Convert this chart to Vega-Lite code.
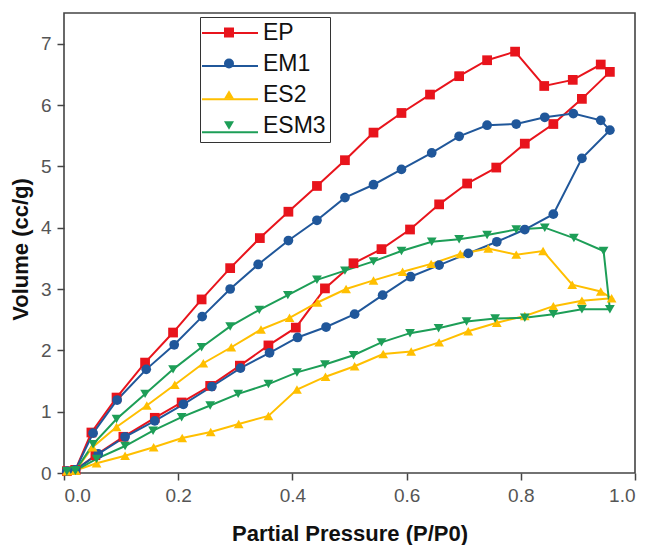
{
  "$schema": "https://vega.github.io/schema/vega-lite/v6.json",
  "autosize": "none",
  "padding": {"left": 64, "top": 13, "right": 13, "bottom": 72},
  "width": 571,
  "height": 460,
  "background": "white",
  "config": {
    "view": {"stroke": "#444", "strokeWidth": 1.6},
    "font": "Liberation Sans",
    "axis": {
      "grid": false,
      "domain": false,
      "tickColor": "#444",
      "tickWidth": 1.5,
      "tickSize": 7,
      "labelFont": "Liberation Sans",
      "labelFontSize": 19,
      "labelColor": "#555",
      "labelPadding": 6,
      "titleFont": "Liberation Sans",
      "titleFontSize": 22,
      "titleFontWeight": "bold",
      "titleColor": "#111"
    }
  },
  "data": {
    "values": [
      {"s":"EP","o":0,"x":0.005,"y":0.03},{"s":"EP","o":1,"x":0.02,"y":0.05},
      {"s":"EP","o":2,"x":0.055,"y":0.29},{"s":"EP","o":3,"x":0.104,"y":0.59},{"s":"EP","o":4,"x":0.159,"y":0.9},{"s":"EP","o":5,"x":0.206,"y":1.15},{"s":"EP","o":6,"x":0.256,"y":1.42},{"s":"EP","o":7,"x":0.308,"y":1.75},{"s":"EP","o":8,"x":0.358,"y":2.08},{"s":"EP","o":9,"x":0.406,"y":2.37},{"s":"EP","o":10,"x":0.457,"y":3.01},{"s":"EP","o":11,"x":0.507,"y":3.42},{"s":"EP","o":12,"x":0.556,"y":3.65},{"s":"EP","o":13,"x":0.606,"y":3.97},{"s":"EP","o":14,"x":0.657,"y":4.38},{"s":"EP","o":15,"x":0.706,"y":4.72},{"s":"EP","o":16,"x":0.757,"y":4.98},{"s":"EP","o":17,"x":0.807,"y":5.37},{"s":"EP","o":18,"x":0.857,"y":5.69},{"s":"EP","o":19,"x":0.907,"y":6.1},{"s":"EP","o":20,"x":0.956,"y":6.54},
      {"s":"EP","o":21,"x":0.94,"y":6.66},{"s":"EP","o":22,"x":0.891,"y":6.41},{"s":"EP","o":23,"x":0.841,"y":6.31},{"s":"EP","o":24,"x":0.79,"y":6.87},{"s":"EP","o":25,"x":0.741,"y":6.73},{"s":"EP","o":26,"x":0.692,"y":6.47},{"s":"EP","o":27,"x":0.641,"y":6.17},{"s":"EP","o":28,"x":0.591,"y":5.87},{"s":"EP","o":29,"x":0.542,"y":5.55},{"s":"EP","o":30,"x":0.492,"y":5.1},{"s":"EP","o":31,"x":0.443,"y":4.68},{"s":"EP","o":32,"x":0.393,"y":4.26},{"s":"EP","o":33,"x":0.343,"y":3.83},{"s":"EP","o":34,"x":0.291,"y":3.34},{"s":"EP","o":35,"x":0.241,"y":2.83},{"s":"EP","o":36,"x":0.191,"y":2.29},{"s":"EP","o":37,"x":0.142,"y":1.8},{"s":"EP","o":38,"x":0.092,"y":1.23},{"s":"EP","o":39,"x":0.048,"y":0.66},{"s":"EP","o":40,"x":0.02,"y":0.05},

      {"s":"EM1","o":0,"x":0.005,"y":0.03},{"s":"EM1","o":1,"x":0.02,"y":0.05},
      {"s":"EM1","o":2,"x":0.06,"y":0.31},{"s":"EM1","o":3,"x":0.107,"y":0.59},{"s":"EM1","o":4,"x":0.159,"y":0.85},{"s":"EM1","o":5,"x":0.209,"y":1.12},{"s":"EM1","o":6,"x":0.259,"y":1.41},{"s":"EM1","o":7,"x":0.309,"y":1.71},{"s":"EM1","o":8,"x":0.36,"y":1.96},{"s":"EM1","o":9,"x":0.409,"y":2.21},{"s":"EM1","o":10,"x":0.459,"y":2.38},{"s":"EM1","o":11,"x":0.509,"y":2.59},{"s":"EM1","o":12,"x":0.558,"y":2.9},{"s":"EM1","o":13,"x":0.607,"y":3.2},{"s":"EM1","o":14,"x":0.657,"y":3.39},{"s":"EM1","o":15,"x":0.708,"y":3.58},{"s":"EM1","o":16,"x":0.758,"y":3.77},{"s":"EM1","o":17,"x":0.807,"y":3.97},{"s":"EM1","o":18,"x":0.857,"y":4.22},{"s":"EM1","o":19,"x":0.907,"y":5.13},{"s":"EM1","o":20,"x":0.956,"y":5.59},
      {"s":"EM1","o":21,"x":0.94,"y":5.75},{"s":"EM1","o":22,"x":0.892,"y":5.86},{"s":"EM1","o":23,"x":0.842,"y":5.8},{"s":"EM1","o":24,"x":0.792,"y":5.69},{"s":"EM1","o":25,"x":0.741,"y":5.67},{"s":"EM1","o":26,"x":0.692,"y":5.49},{"s":"EM1","o":27,"x":0.644,"y":5.22},{"s":"EM1","o":28,"x":0.591,"y":4.95},{"s":"EM1","o":29,"x":0.542,"y":4.7},{"s":"EM1","o":30,"x":0.492,"y":4.49},{"s":"EM1","o":31,"x":0.443,"y":4.12},{"s":"EM1","o":32,"x":0.393,"y":3.79},{"s":"EM1","o":33,"x":0.34,"y":3.4},{"s":"EM1","o":34,"x":0.291,"y":3.0},{"s":"EM1","o":35,"x":0.242,"y":2.55},{"s":"EM1","o":36,"x":0.193,"y":2.09},{"s":"EM1","o":37,"x":0.144,"y":1.69},{"s":"EM1","o":38,"x":0.093,"y":1.19},{"s":"EM1","o":39,"x":0.051,"y":0.65},{"s":"EM1","o":40,"x":0.02,"y":0.05},

      {"s":"ES2","o":0,"x":0.005,"y":0.03},{"s":"ES2","o":1,"x":0.02,"y":0.04},
      {"s":"ES2","o":2,"x":0.057,"y":0.16},{"s":"ES2","o":3,"x":0.107,"y":0.28},{"s":"ES2","o":4,"x":0.157,"y":0.42},{"s":"ES2","o":5,"x":0.207,"y":0.57},{"s":"ES2","o":6,"x":0.257,"y":0.67},{"s":"ES2","o":7,"x":0.306,"y":0.8},{"s":"ES2","o":8,"x":0.358,"y":0.93},{"s":"ES2","o":9,"x":0.408,"y":1.36},{"s":"ES2","o":10,"x":0.458,"y":1.57},{"s":"ES2","o":11,"x":0.509,"y":1.74},{"s":"ES2","o":12,"x":0.559,"y":1.94},{"s":"ES2","o":13,"x":0.608,"y":1.98},{"s":"ES2","o":14,"x":0.657,"y":2.13},{"s":"ES2","o":15,"x":0.708,"y":2.31},{"s":"ES2","o":16,"x":0.758,"y":2.45},{"s":"ES2","o":17,"x":0.807,"y":2.56},{"s":"ES2","o":18,"x":0.857,"y":2.72},{"s":"ES2","o":19,"x":0.907,"y":2.81},{"s":"ES2","o":20,"x":0.959,"y":2.85},
      {"s":"ES2","o":21,"x":0.94,"y":2.96},{"s":"ES2","o":22,"x":0.89,"y":3.07},{"s":"ES2","o":23,"x":0.839,"y":3.62},{"s":"ES2","o":24,"x":0.792,"y":3.56},{"s":"ES2","o":25,"x":0.743,"y":3.66},{"s":"ES2","o":26,"x":0.694,"y":3.57},{"s":"ES2","o":27,"x":0.643,"y":3.41},{"s":"ES2","o":28,"x":0.593,"y":3.28},{"s":"ES2","o":29,"x":0.542,"y":3.14},{"s":"ES2","o":30,"x":0.494,"y":3.0},{"s":"ES2","o":31,"x":0.444,"y":2.78},{"s":"ES2","o":32,"x":0.395,"y":2.53},{"s":"ES2","o":33,"x":0.345,"y":2.34},{"s":"ES2","o":34,"x":0.293,"y":2.05},{"s":"ES2","o":35,"x":0.244,"y":1.79},{"s":"ES2","o":36,"x":0.194,"y":1.44},{"s":"ES2","o":37,"x":0.145,"y":1.1},{"s":"ES2","o":38,"x":0.092,"y":0.75},{"s":"ES2","o":39,"x":0.05,"y":0.42},{"s":"ES2","o":40,"x":0.02,"y":0.04},

      {"s":"ESM3","o":0,"x":0.005,"y":0.03},{"s":"ESM3","o":1,"x":0.02,"y":0.04},
      {"s":"ESM3","o":2,"x":0.057,"y":0.23},{"s":"ESM3","o":3,"x":0.107,"y":0.44},{"s":"ESM3","o":4,"x":0.156,"y":0.69},{"s":"ESM3","o":5,"x":0.206,"y":0.91},{"s":"ESM3","o":6,"x":0.256,"y":1.1},{"s":"ESM3","o":7,"x":0.305,"y":1.29},{"s":"ESM3","o":8,"x":0.358,"y":1.45},{"s":"ESM3","o":9,"x":0.408,"y":1.64},{"s":"ESM3","o":10,"x":0.457,"y":1.77},{"s":"ESM3","o":11,"x":0.507,"y":1.92},{"s":"ESM3","o":12,"x":0.556,"y":2.13},{"s":"ESM3","o":13,"x":0.606,"y":2.28},{"s":"ESM3","o":14,"x":0.656,"y":2.36},{"s":"ESM3","o":15,"x":0.705,"y":2.47},{"s":"ESM3","o":16,"x":0.755,"y":2.52},{"s":"ESM3","o":17,"x":0.807,"y":2.53},{"s":"ESM3","o":18,"x":0.857,"y":2.59},{"s":"ESM3","o":19,"x":0.907,"y":2.67},{"s":"ESM3","o":20,"x":0.956,"y":2.67},
      {"s":"ESM3","o":21,"x":0.945,"y":3.62},{"s":"ESM3","o":22,"x":0.893,"y":3.83},{"s":"ESM3","o":23,"x":0.842,"y":4.0},{"s":"ESM3","o":24,"x":0.792,"y":3.97},{"s":"ESM3","o":25,"x":0.741,"y":3.88},{"s":"ESM3","o":26,"x":0.692,"y":3.81},{"s":"ESM3","o":27,"x":0.644,"y":3.77},{"s":"ESM3","o":28,"x":0.591,"y":3.62},{"s":"ESM3","o":29,"x":0.542,"y":3.45},{"s":"ESM3","o":30,"x":0.492,"y":3.3},{"s":"ESM3","o":31,"x":0.443,"y":3.15},{"s":"ESM3","o":32,"x":0.392,"y":2.9},{"s":"ESM3","o":33,"x":0.342,"y":2.66},{"s":"ESM3","o":34,"x":0.291,"y":2.39},{"s":"ESM3","o":35,"x":0.241,"y":2.05},{"s":"ESM3","o":36,"x":0.191,"y":1.69},{"s":"ESM3","o":37,"x":0.142,"y":1.29},{"s":"ESM3","o":38,"x":0.092,"y":0.88},{"s":"ESM3","o":39,"x":0.051,"y":0.47},{"s":"ESM3","o":40,"x":0.02,"y":0.04}
    ]
  },
  "encoding": {
    "x": {"field": "x", "type": "quantitative",
      "scale": {"domain": [0, 1], "nice": false, "zero": false},
      "axis": {"values": [0, 0.2, 0.4, 0.6, 0.8, 1.0], "format": ".1f", "title": "Partial Pressure (P/P0)", "titleBaseline": "alphabetic", "titleY": 67}},
    "y": {"field": "y", "type": "quantitative",
      "scale": {"domain": [0, 7.5], "nice": false},
      "axis": {"values": [0, 1, 2, 3, 4, 5, 6, 7], "format": "d", "title": "Volume (cc/g)", "titleBaseline": "alphabetic", "titleX": -37, "titleY": 236}}
  },
  "layer": [
    {
      "mark": {"type": "line", "strokeWidth": 2},
      "encoding": {
        "order": {"field": "o", "type": "quantitative"},
        "detail": {"field": "s"},
        "color": {"field": "s", "type": "nominal",
          "scale": {"domain": ["EP", "EM1", "ES2", "ESM3"], "range": ["#e8141c", "#20579a", "#ffbf00", "#1d9e57"]},
          "legend": {
            "title": null,
            "orient": "none",
            "legendX": 137,
            "legendY": -9,
            "padding": 0,
            "strokeColor": "transparent",
            "fillColor": "transparent",
            "symbolType": "stroke",
            "symbolSize": 3136,
            "symbolStrokeWidth": 2,
            "labelOffset": 2,
            "labelFontSize": 1,
            "labelFont": "Liberation Sans",
            "labelColor": "transparent",
            "rowPadding": 0.1
          }}
      }
    },
    {
      "mark": {"type": "point", "filled": true, "size": 95, "opacity": 1},
      "encoding": {
        "color": {"field": "s", "type": "nominal",
          "legend": {
            "title": null,
            "orient": "none",
            "legendX": 136,
            "legendY": 4,
            "padding": 4,
            "strokeColor": "#333",
            "fillColor": "transparent",
            "symbolSize": 100,
            "symbolOffset": 13.5,
            "labelOffset": 22.5,
            "labelFontSize": 23,
            "labelFont": "Liberation Sans",
            "labelColor": "#111",
            "rowPadding": 7
          }},
        "shape": {"field": "s", "type": "nominal",
          "scale": {"domain": ["EP", "EM1", "ES2", "ESM3"], "range": ["square", "circle", "triangle-up", "triangle-down"]},
          "legend": {
            "title": null,
            "orient": "none",
            "legendX": 136,
            "legendY": 4,
            "padding": 4,
            "strokeColor": "#333",
            "fillColor": "transparent",
            "symbolSize": 100,
            "symbolOffset": 13.5,
            "labelOffset": 22.5,
            "labelFontSize": 23,
            "labelFont": "Liberation Sans",
            "labelColor": "#111",
            "rowPadding": 7
          }}
      }
    }
  ],
  "resolve": {"legend": {"color": "independent", "shape": "independent"}}
}
